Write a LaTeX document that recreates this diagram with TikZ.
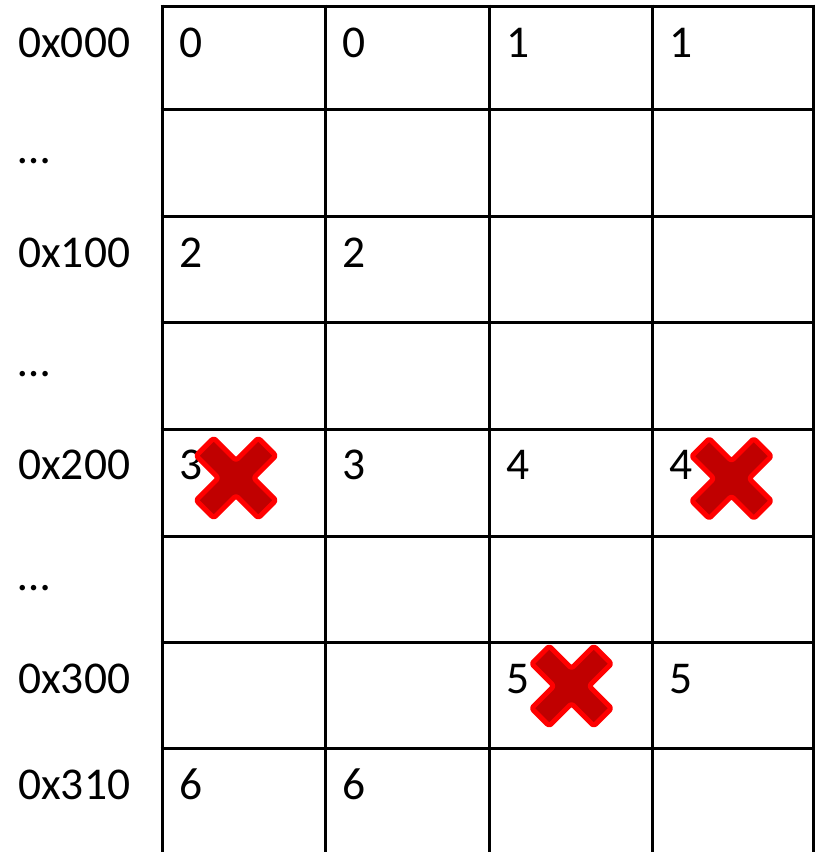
\documentclass[tikz,border=0pt]{standalone}
\usepackage{fontspec}
\setmainfont{Carlito}
\definecolor{crossfill}{HTML}{C00000}
\definecolor{crossedge}{HTML}{FF0000}
\tikzset{
  gridline/.style={line width=3pt, black},
  celltext/.style={anchor=base west, inner sep=0pt, font=\fontsize{45.5}{50}\selectfont},
  crossmark/.style={fill=crossfill, draw=crossedge, line width=5pt, rounded corners=2.5pt, line join=round},
  pics/redcross/.style={code={
    \draw[crossmark, rotate=45]
      (44,12.5) -- (12.5,12.5) -- (12.5,44) -- (-12.5,44) -- (-12.5,12.5) -- (-44,12.5)
      -- (-44,-12.5) -- (-12.5,-12.5) -- (-12.5,-44) -- (12.5,-44) -- (12.5,-12.5) -- (44,-12.5) -- cycle;
  }}
}
\begin{document}
\begin{tikzpicture}[x=1pt,y=-1pt]
\useasboundingbox (0,0) rectangle (815,852);
% grid
\foreach \cx in {162,325,489,652,813.5} {
  \draw[gridline] (\cx,4.5) -- (\cx,852);
}
\foreach \ry in {6,109,216,322,429,536,642,748} {
  \draw[gridline] (160.5,\ry) -- (815,\ry);
}
% row labels
\node[celltext] (l0) at (18,57) {0x000};
\node[celltext] (l1) at (18,163) {…};
\node[celltext] (l2) at (18,267) {0x100};
\node[celltext] (l3) at (18,376) {…};
\node[celltext] (l4) at (18,479) {0x200};
\node[celltext] (l5) at (18,590) {…};
\node[celltext] (l6) at (18,693) {0x300};
\node[celltext] (l7) at (18,799) {0x310};
% cell values
\node[celltext] (c00) at (179,57) {0};
\node[celltext] (c01) at (342,57) {0};
\node[celltext] (c02) at (506,57) {1};
\node[celltext] (c03) at (669,57) {1};
\node[celltext] (c20) at (179,267) {2};
\node[celltext] (c21) at (342,267) {2};
\node[celltext] (c40) at (179,479) {3};
\node[celltext] (c41) at (342,479) {3};
\node[celltext] (c42) at (506,479) {4};
\node[celltext] (c43) at (669,479) {4};
\node[celltext] (c62) at (506,693) {5};
\node[celltext] (c63) at (669,693) {5};
\node[celltext] (c70) at (179,799) {6};
\node[celltext] (c71) at (342,799) {6};
% crosses
\pic at (236,478) {redcross};
\pic at (731.5,478.5) {redcross};
\pic at (571.5,686) {redcross};
\end{tikzpicture}
\end{document}
